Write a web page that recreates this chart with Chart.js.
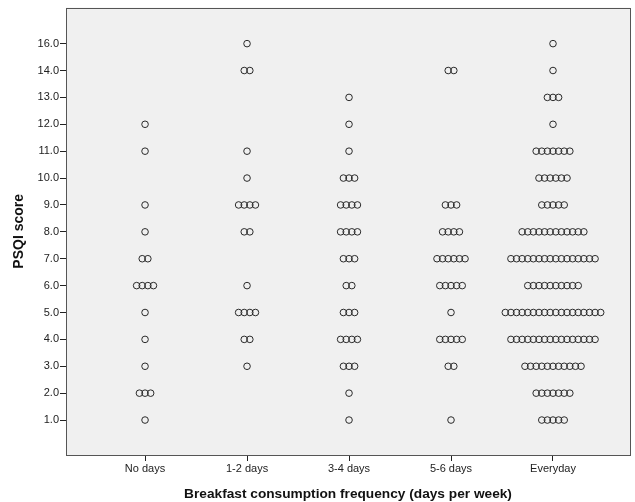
<!DOCTYPE html>
<html>
<head>
<meta charset="utf-8">
<script src="https://cdn.jsdelivr.net/npm/chart.js@4/dist/chart.umd.min.js"></script>
<style>
html,body{margin:0;padding:0;background:#fff;}
#wrap{width:635px;height:502px;}
</style>
</head>
<body>
<div id="wrap"><canvas id="c" width="635" height="502"></canvas></div>
<script>
// Categories (x) and score levels (y, ordinal)
const categories = ['No days', '1-2 days', '3-4 days', '5-6 days', 'Everyday'];
const scoreLabels = ['1.0','2.0','3.0','4.0','5.0','6.0','7.0','8.0','9.0','10.0','11.0','12.0','13.0','14.0','16.0'];
// Number of respondents at each score level (same order as scoreLabels)
const noDays    = [1, 3, 1, 1, 1, 4, 2, 1, 1, 0, 1, 1, 0, 0, 0];
const days12    = [0, 0, 1, 2, 4, 1, 0, 2, 4, 1, 1, 0, 0, 2, 1];
const days34    = [1, 1, 3, 4, 3, 2, 3, 4, 4, 3, 1, 1, 1, 0, 0];
const days56    = [1, 0, 2, 5, 1, 5, 6, 4, 3, 0, 0, 0, 0, 2, 0];
const everyday  = [5, 7, 11, 16, 18, 10, 16, 12, 5, 6, 7, 1, 3, 1, 1];
const counts = [noDays, days12, days34, days56, everyday];

const DOT_STEP = 0.055; // horizontal spread between stacked dots, in category units

const points = [];
counts.forEach((arr, ci) => {
  arr.forEach((n, si) => {
    for (let j = 0; j < n; j++) {
      points.push({x: ci + (j - (n - 1) / 2) * DOT_STEP, y: si});
    }
  });
});

const FONT = '"Liberation Sans", Arial, sans-serif';

const bgPlugin = {
  id: 'bg',
  beforeDraw(chart) {
    const {ctx, chartArea: a} = chart;
    ctx.save();
    ctx.fillStyle = '#fff';
    ctx.fillRect(0, 0, chart.width, chart.height);
    ctx.fillStyle = '#f0f0f0';
    ctx.fillRect(a.left, a.top, a.right - a.left, a.bottom - a.top);
    ctx.restore();
  },
  afterDraw(chart) {
    const {ctx, chartArea: a} = chart;
    ctx.save();
    ctx.strokeStyle = '#555';
    ctx.lineWidth = 1;
    ctx.strokeRect(Math.round(a.left) + 0.5, Math.round(a.top) + 0.5, Math.round(a.right - a.left), Math.round(a.bottom - a.top));
    ctx.restore();
  }
};

new Chart(document.getElementById('c'), {
  type: 'scatter',
  data: {
    datasets: [{
      data: points,
      pointRadius: 3.3,
      pointHoverRadius: 3.3,
      pointBorderWidth: 1,
      pointBorderColor: '#2a2a2a',
      pointBackgroundColor: 'rgba(0,0,0,0)'
    }]
  },
  options: {
    responsive: false,
    animation: false,
    layout: {padding: {top: 7, right: 5, left: 0, bottom: 0}},
    plugins: {legend: {display: false}, tooltip: {enabled: false}},
    scales: {
      x: {
        type: 'linear',
        min: -0.775,
        max: 4.755,
        afterBuildTicks(scale) { scale.ticks = categories.map((c, i) => ({value: i})); },
        afterFit(scale) { scale.height = 47; },
        ticks: {
          callback: (v) => categories[v],
          color: '#222',
          font: {family: FONT, size: 11},
          padding: 1,
          maxRotation: 0,
          autoSkip: false
        },
        grid: {drawOnChartArea: false, tickLength: 6, color: '#222', tickWidth: 1},
        border: {display: false},
        title: {
          display: true,
          text: 'Breakfast consumption frequency (days per week)',
          color: '#111',
          font: {family: FONT, size: 13.7, weight: 'bold'},
          padding: {top: 5, bottom: 0}
        }
      },
      y: {
        type: 'linear',
        min: -1.3,
        max: 15.34,
        afterBuildTicks(scale) { scale.ticks = scoreLabels.map((s, i) => ({value: i})); },
        afterFit(scale) { scale.width = 66; },
        ticks: {
          callback: (v) => scoreLabels[v],
          color: '#222',
          font: {family: FONT, size: 11},
          padding: 1,
          autoSkip: false
        },
        grid: {drawOnChartArea: false, tickLength: 6, color: '#222', tickWidth: 1},
        border: {display: false},
        title: {
          display: true,
          text: 'PSQI score',
          color: '#111',
          font: {family: FONT, size: 14, weight: 'bold'},
          padding: {top: 11, bottom: 0}
        }
      }
    }
  },
  plugins: [bgPlugin]
});
</script>
</body>
</html>
